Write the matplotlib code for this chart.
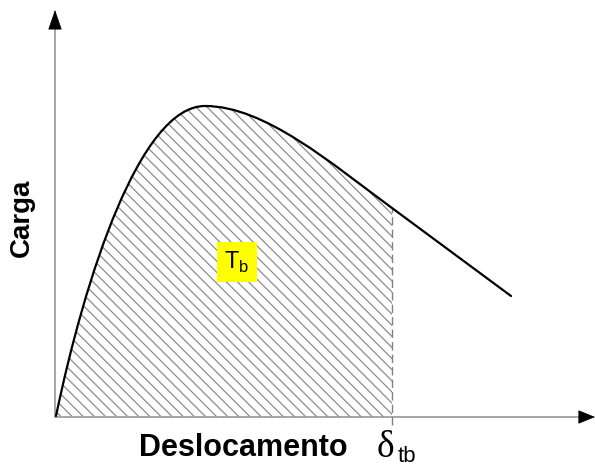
import matplotlib.pyplot as plt
from matplotlib.path import Path
from matplotlib.patches import PathPatch

# curva carga x deslocamento (unidades arbitrarias)
# trechos de Bezier: origem -> pico -> delta_tb, depois reta ate o fim
origem = (1, 1)
subida = [(30, 140), (85, 311), (150, 311)]      # controle, controle, pico
descida = [(210, 311), (277, 253), (337, 209)]   # controle, controle, delta_tb
fim = (456, 121)
delta_tb = 337

plt.rcParams['hatch.linewidth'] = 0.9

fig = plt.figure(figsize=(5.95, 4.67), dpi=100)
ax = fig.add_axes([0, 0, 1, 1])
ax.set_xlim(-55, 540)
ax.set_ylim(-50, 417)
ax.axis('off')

# eixos com setas
ax.plot([0, 0], [0, 392], color='#a6a6a6', lw=1.4, zorder=1)
ax.plot([0, 528], [0, 0], color='#a6a6a6', lw=1.4, zorder=1)
ax.annotate('', xy=(0, 407), xytext=(0, 388),
            arrowprops=dict(arrowstyle='-|>,head_length=1.3,head_width=0.45',
                            color='black', lw=0.5, shrinkA=0, shrinkB=0))
ax.annotate('', xy=(540, 0), xytext=(526, 0),
            arrowprops=dict(arrowstyle='-|>,head_length=1.1,head_width=0.45',
                            color='black', lw=0.5, shrinkA=0, shrinkB=0))

C4 = Path.CURVE4
pts_curva = [origem] + subida + descida
cod_curva = [Path.MOVETO] + [C4] * 6

# area hachurada ate delta_tb
area = Path(pts_curva + [(delta_tb, 0), origem],
            cod_curva + [Path.LINETO, Path.CLOSEPOLY])
ax.add_patch(PathPatch(area, facecolor='none', edgecolor='#8c8c8c',
                       hatch='\\\\\\', linewidth=0, zorder=2))
ax.plot([delta_tb, delta_tb], [-8, descida[-1][1]], color='#808080',
        lw=1.0, ls=(0, (6, 3)), zorder=2)

curva = Path(pts_curva + [fim], cod_curva + [Path.LINETO])
ax.add_patch(PathPatch(curva, facecolor='none', edgecolor='black', lw=1.6,
                       capstyle='round', zorder=3))

# textos
ax.text(182, 155, r'T$_\mathregular{b}$', fontsize=17, family='Liberation Sans',
        ha='center', va='center', zorder=4,
        bbox=dict(boxstyle='square,pad=0.3', facecolor='#ffff00', edgecolor='none'))
ax.text(-33, 199, 'Carga', rotation=90, fontsize=20, fontweight='bold',
        family='Liberation Sans', ha='center', va='center')
ax.text(188, -39, 'Deslocamento', fontsize=22, fontweight='bold',
        family='Liberation Sans', ha='center', va='baseline')
ax.text(322, -40, 'δ', fontsize=27, family='Liberation Serif',
        ha='left', va='baseline')
ax.text(343, -45, 'tb', fontsize=16, family='Liberation Sans',
        ha='left', va='baseline')

fig.savefig('out.png', dpi=100)
